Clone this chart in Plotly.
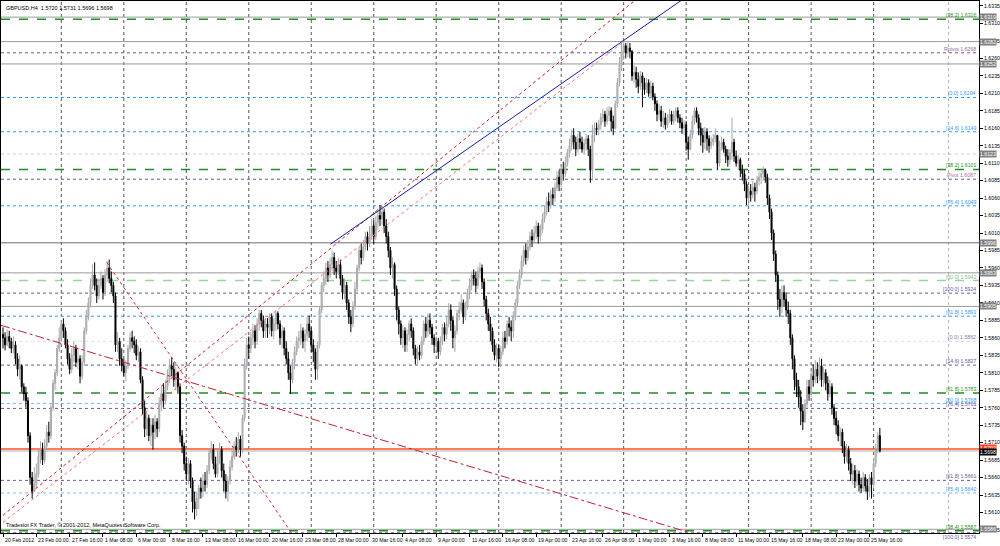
import plotly.graph_objects as go

BASE = 1.5
PIP = 10000.0

# ---- OHLC data (pips above 1.5000), GBPUSD H4, bar 0 = 20 Feb 2012 08:00 ----
first_open = 865
close_p = [
    860, 850, 862, 855, 845, 850, 830, 815, 820, 790, 780, 770, 720, 660, 640,
    650, 665, 690, 700, 685, 705, 725, 720, 760, 795, 810, 845, 860, 880, 870, 850,
    830, 815, 835, 845, 825, 830, 805, 825, 870, 890, 910, 935, 950, 935, 920, 935,
    945, 925, 950, 960, 945, 935, 920, 850, 855, 830, 820, 810, 820, 845, 860, 855,
    850, 835, 840, 800, 760, 730, 745, 720, 735, 725, 740, 730, 765, 780, 770, 790,
    805, 820, 815, 800, 810, 790, 720, 705, 680, 665, 680, 655, 625, 615, 630, 645,
    640, 655, 650, 670, 695, 700, 680, 665, 690, 700, 670, 655, 640, 655, 675, 690,
    705, 700, 715, 700, 745, 820, 850, 845, 860, 870, 855, 880, 895, 885, 870, 880,
    875, 890, 870, 880, 895, 880, 860, 870, 845, 830, 810, 800, 825, 840, 855, 860,
    870, 855, 865, 880, 870, 850, 840, 815, 850, 900, 935, 945, 960, 950, 965, 975,
    960, 955, 965, 945, 925, 935, 910, 890, 880, 905, 930, 960, 985, 975, 990, 1005,
    995, 1010, 1020, 1005, 1025, 1035, 1030, 1040, 1020, 1005, 985, 960, 965, 930, 900, 880,
    860, 870, 850, 865, 880, 870, 845, 830, 840, 835, 855, 880, 870, 885, 875, 860,
    850, 855, 840, 855, 875, 865, 880, 900, 885, 860, 870, 895, 900, 910, 890, 905,
    925, 935, 950, 945, 935, 955, 960, 940, 915, 895, 880, 870, 850, 835, 845, 830,
    840, 860, 855, 880, 875, 870, 890, 910, 935, 950, 970, 985, 975, 990, 1005, 1000,
    1010, 1020, 1005, 1015, 1030, 1040, 1055, 1050, 1065, 1060, 1075, 1090, 1080, 1100, 1095, 1110,
    1125, 1135, 1150, 1140, 1130, 1145, 1140, 1130, 1138, 1145, 1130, 1100, 1150, 1160, 1158, 1165,
    1175, 1180, 1170, 1178, 1185, 1170, 1160, 1195, 1225, 1250, 1270, 1278, 1268, 1275, 1270, 1235,
    1240, 1230, 1220, 1235, 1225, 1215, 1225, 1210, 1220, 1205, 1195, 1180, 1185, 1170, 1175, 1165,
    1175, 1180, 1170, 1178, 1185, 1175, 1168, 1160, 1165, 1140, 1130, 1150, 1170, 1185, 1175, 1160,
    1150, 1140, 1155, 1145, 1135, 1140, 1145, 1150, 1110, 1135, 1140, 1130, 1120, 1115, 1125, 1140,
    1120, 1110, 1115, 1100, 1095, 1080, 1060, 1070, 1065, 1075, 1070, 1085, 1090, 1095, 1100, 1090,
    1060, 1040, 1010, 980, 950, 915, 905, 925, 915, 900, 895, 860, 830, 800, 790, 775,
    755, 740, 765, 790, 780, 805, 800, 815, 805, 820, 800, 810, 795, 780, 790, 760,
    745, 735, 720, 725, 705, 690, 700, 680, 665, 670, 655, 665, 650, 645, 660, 648,
    640, 660, 650, 680, 700, 720, 698,
]
high_p = [
    875, 868, 872, 870, 860, 862, 855, 838, 835, 822, 795, 790, 775, 725, 668,
    675, 680, 700, 712, 710, 715, 735, 740, 765, 800, 815, 850, 875, 885, 888, 875,
    858, 838, 845, 855, 850, 845, 835, 835, 875, 900, 918, 945, 965, 968, 945, 945,
    955, 950, 958, 970, 972, 955, 940, 925, 868, 860, 845, 830, 828, 850, 868, 870,
    862, 858, 848, 845, 805, 770, 755, 750, 745, 745, 750, 745, 775, 790, 795, 800,
    815, 830, 832, 825, 818, 812, 795, 728, 710, 690, 688, 685, 660, 640, 640, 650,
    660, 665, 668, 678, 702, 712, 708, 690, 700, 710, 705, 680, 665, 662, 685, 700,
    712, 718, 725, 720, 750, 830, 860, 862, 868, 880, 878, 888, 900, 900, 892, 888,
    888, 895, 895, 888, 900, 898, 885, 878, 875, 855, 840, 820, 830, 848, 862, 870,
    880, 875, 872, 890, 892, 875, 858, 845, 855, 905, 940, 955, 968, 970, 975, 985,
    982, 970, 975, 972, 950, 945, 940, 915, 900, 912, 940, 965, 990, 995, 1000, 1012,
    1012, 1020, 1030, 1028, 1035, 1045, 1050, 1048, 1045, 1030, 1012, 990, 975, 968, 935, 905,
    885, 878, 875, 872, 885, 888, 875, 850, 848, 850, 862, 885, 890, 895, 895, 880,
    865, 862, 860, 862, 880, 882, 890, 910, 908, 890, 878, 900, 912, 922, 915, 912,
    930, 945, 955, 958, 955, 962, 968, 965, 945, 920, 902, 890, 875, 858, 852, 850,
    848, 868, 870, 885, 890, 885, 898, 915, 942, 958, 978, 992, 995, 1000, 1012, 1015,
    1020, 1028, 1025, 1022, 1038, 1050, 1062, 1068, 1072, 1075, 1082, 1098, 1100, 1108, 1112, 1120,
    1130, 1145, 1158, 1160, 1148, 1152, 1155, 1148, 1145, 1152, 1150, 1135, 1165, 1168, 1168, 1172,
    1182, 1188, 1185, 1190, 1192, 1190, 1178, 1200, 1232, 1262, 1282, 1285, 1282, 1283, 1282, 1272,
    1250, 1248, 1240, 1242, 1240, 1232, 1232, 1230, 1228, 1225, 1210, 1200, 1195, 1192, 1185, 1182,
    1180, 1188, 1185, 1185, 1190, 1190, 1180, 1175, 1172, 1170, 1148, 1158, 1178, 1190, 1190, 1180,
    1168, 1160, 1162, 1160, 1150, 1148, 1152, 1160, 1150, 1142, 1148, 1145, 1135, 1130, 1130, 1175,
    1145, 1128, 1122, 1118, 1108, 1100, 1085, 1078, 1080, 1085, 1082, 1092, 1098, 1102, 1105, 1102,
    1095, 1065, 1045, 1015, 985, 955, 930, 935, 935, 925, 912, 900, 865, 835, 810, 800,
    785, 765, 772, 800, 800, 815, 822, 828, 825, 832, 830, 818, 815, 805, 800, 795,
    765, 755, 742, 732, 730, 712, 708, 705, 688, 680, 678, 672, 670, 660, 668, 665,
    658, 665, 668, 688, 708, 725, 731,
]
low_p = [
    845, 842, 848, 845, 838, 838, 822, 805, 800, 782, 770, 760, 710, 650, 630,
    640, 645, 660, 680, 678, 680, 700, 710, 715, 755, 785, 805, 840, 855, 860, 845,
    822, 808, 810, 825, 818, 815, 795, 800, 820, 865, 885, 905, 930, 928, 910, 915,
    930, 915, 920, 940, 938, 925, 910, 840, 840, 820, 812, 805, 798, 815, 840, 845,
    838, 828, 825, 795, 750, 718, 720, 712, 705, 700, 715, 718, 725, 755, 760, 765,
    785, 795, 805, 790, 785, 780, 710, 695, 670, 655, 650, 645, 610, 600, 605, 615,
    630, 632, 640, 645, 665, 685, 672, 660, 660, 680, 660, 640, 630, 625, 650, 670,
    685, 690, 695, 690, 695, 740, 815, 830, 838, 850, 845, 850, 870, 875, 860, 860,
    860, 865, 862, 858, 870, 872, 850, 845, 835, 822, 800, 780, 795, 815, 835, 845,
    850, 845, 840, 855, 860, 840, 825, 800, 800, 845, 895, 925, 935, 940, 945, 955,
    950, 945, 950, 935, 915, 915, 900, 880, 868, 875, 900, 925, 955, 965, 970, 985,
    985, 990, 1000, 995, 1000, 1015, 1020, 1022, 1010, 995, 975, 950, 945, 920, 885, 865,
    850, 845, 840, 840, 855, 860, 835, 822, 822, 828, 830, 850, 860, 862, 865, 850,
    838, 840, 830, 835, 850, 855, 858, 875, 870, 845, 840, 865, 885, 895, 880, 885,
    900, 915, 928, 935, 925, 930, 945, 930, 905, 885, 870, 855, 840, 828, 825, 818,
    818, 835, 845, 850, 862, 855, 860, 885, 905, 930, 945, 962, 965, 970, 985, 990,
    995, 1002, 995, 998, 1010, 1025, 1035, 1040, 1045, 1050, 1055, 1070, 1070, 1075, 1085, 1090,
    1105, 1118, 1128, 1130, 1120, 1125, 1130, 1125, 1122, 1128, 1120, 1082, 1085, 1140, 1150, 1150,
    1158, 1168, 1162, 1165, 1170, 1155, 1150, 1158, 1190, 1220, 1242, 1258, 1260, 1262, 1260, 1228,
    1225, 1218, 1210, 1215, 1190, 1208, 1210, 1205, 1205, 1200, 1185, 1170, 1172, 1162, 1160, 1158,
    1160, 1168, 1165, 1165, 1170, 1168, 1160, 1152, 1150, 1128, 1115, 1128, 1145, 1165, 1168, 1150,
    1135, 1125, 1130, 1128, 1125, 1130, 1135, 1140, 1100, 1105, 1128, 1125, 1110, 1105, 1108, 1115,
    1112, 1105, 1100, 1090, 1085, 1070, 1050, 1048, 1055, 1060, 1055, 1065, 1078, 1080, 1085, 1082,
    1050, 1030, 1000, 970, 940, 900, 890, 895, 905, 890, 880, 850, 815, 785, 775, 760,
    735, 728, 738, 760, 770, 775, 790, 795, 795, 798, 790, 790, 785, 770, 775, 750,
    735, 722, 712, 705, 695, 680, 682, 670, 655, 650, 645, 648, 640, 638, 640, 640,
    628, 632, 630, 645, 675, 695, 696,
]

# ---- time axis ----
date_label_bars = [0, 16, 32, 48, 64, 80, 96, 112, 128, 144, 160, 176, 192, 208,
                   224, 240, 256, 272, 288, 304, 320, 336, 352, 368, 384, 400, 416]
date_labels = ["20 Feb 2012", "23 Feb 00:00", "27 Feb 16:00", "1 Mar 08:00", "6 Mar 00:00",
               "8 Mar 16:00", "13 Mar 08:00", "16 Mar 00:00", "20 Mar 16:00", "23 Mar 08:00",
               "28 Mar 00:00", "30 Mar 16:00", "4 Apr 08:00", "9 Apr 00:00", "11 Apr 16:00",
               "16 Apr 08:00", "19 Apr 00:00", "23 Apr 16:00", "26 Apr 08:00", "1 May 00:00",
               "3 May 16:00", "8 May 08:00", "11 May 00:00", "15 May 16:00", "18 May 08:00",
               "23 May 00:00", "25 May 16:00"]
week_start_bars = [28, 58, 88, 118, 148, 178, 208, 238, 268, 298, 328, 358, 388, 418]
marker_vline_bars = [454]

# ---- price axis ----
price_ticks = [1.5585, 1.5610, 1.5635, 1.5660, 1.5685, 1.5710, 1.5735, 1.5760, 1.5785,
               1.5810, 1.5835, 1.5860, 1.5885, 1.5910, 1.5935, 1.5960, 1.5985, 1.6010,
               1.6035, 1.6060, 1.6085, 1.6110, 1.6135, 1.6160, 1.6185, 1.6210, 1.6235,
               1.6260, 1.6285, 1.6310, 1.6335]

# ---- horizontal levels ----
level_prices = [1.6319, 1.6316, 1.6284, 1.6268, 1.6252, 1.6204, 1.6155, 1.6123, 1.6101,
                1.6087, 1.6049, 1.5996, 1.5953, 1.5942, 1.5924, 1.5905, 1.5891, 1.5855,
                1.5821, 1.5781, 1.5766, 1.5759, 1.5701, 1.5698, 1.5656, 1.5638, 1.5586,
                1.5584, 1.5581]
level_texts = ["", "[38.2] 1.6316", "", "Rpivot 1.6268", "", "[0.0] 1.6204", "[14.6] 1.6149",
               "", "[38.2] 1.6101", "Pivot 1.6087", "[76.4] 1.6049", "", "", "[50.0] 1.5942",
               "[100.0] 1.5924", "", "[61.8] 1.5891", "(0.0) 1.5862", "[14.6] 1.5827",
               "[61.8] 1.5783", "[50.0] 1.5768", "[76.4] 1.5761", "", "", "[61.8] 1.5661",
               "[76.4] 1.5640", "", "[38.4] 1.5587", "[100.0] 1.5574"]
level_color = ["#9a9a9a", "#1f8f1f", "#9a9a9a", "#6a5a9a", "#9a9a9a", "#3399ff", "#3399ff",
               "#d0d0d0", "#1f8f1f", "#6a5a9a", "#3399ff", "#6e6e6e", "#9a9a9a", "#9fd09f",
               "#6a5a9a", "#9a9a9a", "#3399ff", "#e8d8e8", "#6a5a9a", "#1f8f1f", "#77bbff",
               "#6a5a9a", "#ff5020", "#c8c8c8", "#6a5a9a", "#77bbff", "#9a9a9a", "#1f8f1f",
               "#6a5a9a"]
level_text_color = ["", "#1f8f1f", "", "#8a6a9a", "", "#3399ff", "#3399ff", "", "#1f8f1f",
                    "#b07090", "#3399ff", "", "", "#7fb87f", "#6a5a9a", "", "#3399ff", "#8a7aaa",
                    "#6a5a9a", "#1f8f1f", "#3399ff", "#6a5a9a", "", "", "#6a5a9a", "#3399ff",
                    "", "#1f8f1f", "#6a5a9a"]
level_text_below = [False] * 28 + [True]
level_dash = ["solid", "dash", "solid", "dot", "solid", "dot", "dot", "dot", "dash", "dot",
              "dot", "solid", "solid", "dash", "dot", "solid", "dot", "dot", "dot", "dash",
              "dot", "dot", "solid", "solid", "dot", "dot", "solid", "dash", "dot"]
level_width = [1, 1.5, 1, 1, 1, 1, 1, 1, 1.5, 1, 1, 1, 1, 1.5, 1, 1, 1, 1, 1, 1.5, 1, 1,
               1.5, 1.5, 1, 1, 1, 1.5, 1]

# ---- price boxes on the axis ----
box_prices = [1.6319, 1.6284, 1.6252, 1.6123, 1.5996, 1.5953, 1.5905, 1.5703, 1.5696, 1.5586]
box_texts = ["1.6319", "1.6282", "1.6252", "1.6123", "1.5996", "1.5953", "1.5905", "1.5703",
             "1.5698", "1.5586"]
box_colors = ["#808080", "#808080", "#808080", "#808080", "#808080", "#808080", "#808080",
              "#ff4020", "#000000", "#808080"]

# ---- trend lines (bar index, price) ----
trend_x0 = [0, 0, 157.2, -1, 49.8]
trend_p0 = [1.5606, 1.5596, 1.5994, 1.5878, 1.5968]
trend_x1 = [310, 298.5, 330, 330, 138.5]
trend_p1 = [1.6359, 1.6285, 1.6352, 1.5581, 1.5581]
trend_color = ["#d01818", "#ff7070", "#1a1aa0", "#c02030", "#d02828"]
trend_dash = ["dot", "dot", "solid", "dashdot", "dot"]

# ---------------------------------------------------------------
opens = [first_open] + close_p[:-1]
bars = list(range(len(close_p)))
O = [BASE + v / PIP for v in opens]
C = [BASE + v / PIP for v in close_p]
H = [BASE + max(h, o, c) / PIP for h, o, c in zip(high_p, opens, close_p)]
L = [BASE + min(l, o, c) / PIP for l, o, c in zip(low_p, opens, close_p)]

fig = go.Figure()

shapes = []
for b in week_start_bars:
    shapes.append(dict(type="line", xref="x", yref="paper", x0=b, x1=b, y0=0, y1=1,
                       line=dict(color="#555555", width=1, dash="dot"), layer="below"))
for b in marker_vline_bars:
    shapes.append(dict(type="line", xref="x", yref="paper", x0=b, x1=b, y0=0, y1=1,
                       line=dict(color="#b0b0b0", width=1, dash="dot"), layer="below"))
for p, col, d, w in zip(level_prices, level_color, level_dash, level_width):
    shapes.append(dict(type="line", xref="paper", yref="y", x0=0, x1=1, y0=p, y1=p,
                       line=dict(color=col, width=w, dash=d), layer="below"))
fig.update_layout(shapes=shapes)

for x0, p0, x1, p1, col, d in zip(trend_x0, trend_p0, trend_x1, trend_p1, trend_color, trend_dash):
    fig.add_trace(go.Scatter(x=[x0, x1], y=[p0, p1], mode="lines",
                             line=dict(color=col, width=1, dash=d),
                             hoverinfo="skip", showlegend=False))

fig.add_trace(go.Candlestick(
    x=bars, open=O, high=H, low=L, close=C,
    increasing=dict(line=dict(color="#a8a8a8", width=1), fillcolor="#c8c8c8"),
    decreasing=dict(line=dict(color="#000000", width=1), fillcolor="#000000"),
    whiskerwidth=0, showlegend=False, hoverinfo="skip"))

FONT = "Liberation Sans, Arial"
SMALL = 5.2
ann = []
for b, t in zip(date_label_bars, date_labels):
    ann.append(dict(x=b, y=0, xref="x", yref="paper", text=t, showarrow=False,
                    xanchor="left", yanchor="top", yshift=-2, xshift=0,
                    font=dict(family=FONT, size=SMALL, color="#000000")))
for p, t, col, below in zip(level_prices, level_texts, level_text_color, level_text_below):
    if t:
        ann.append(dict(x=1, y=p, xref="paper", yref="y", text=t, showarrow=False,
                        xanchor="right", yanchor="top" if below else "bottom",
                        xshift=-1, yshift=1 if below else -1,
                        font=dict(family=FONT, size=SMALL, color=col)))
for p, t, col in zip(box_prices, box_texts, box_colors):
    ann.append(dict(x=1, y=p, xref="paper", yref="y", text=t, showarrow=False,
                    xanchor="left", yanchor="middle", bgcolor=col, borderpad=0,
                    font=dict(family=FONT, size=SMALL, color="#ffffff")))
ann.append(dict(x=0, y=1, xref="paper", yref="paper", text="GBPUSD,H4  1.5720 1.5731 1.5696 1.5698",
                showarrow=False, xanchor="left", yanchor="top", xshift=3, yshift=-2,
                font=dict(family=FONT, size=5.5, color="#000000")))
ann.append(dict(x=0, y=0, xref="paper", yref="paper",
                text="Tradeslot FX Trader, © 2001-2012, MetaQuotes Software Corp.",
                showarrow=False, xanchor="left", yanchor="bottom", xshift=3, yshift=3,
                font=dict(family=FONT, size=5.5, color="#000000")))

fig.update_layout(
    width=1000, height=546,
    margin=dict(l=0, r=20, t=0, b=13),
    paper_bgcolor="#ffffff", plot_bgcolor="#ffffff",
    annotations=ann,
    xaxis=dict(range=[-0.96, 468.6], showgrid=False, zeroline=False,
               tickvals=date_label_bars, showticklabels=False, ticks="outside", ticklen=3,
               tickcolor="#000000", showline=True, linecolor="#000000", linewidth=1, mirror=True,
               rangeslider=dict(visible=False), fixedrange=True),
    yaxis=dict(range=[1.55807, 1.63421], side="right", showgrid=False, zeroline=False,
               tickvals=price_ticks, ticktext=["%.4f" % v for v in price_ticks],
               ticks="outside", ticklen=3, tickcolor="#000000",
               tickfont=dict(family=FONT, size=SMALL, color="#000000"),
               showline=True, linecolor="#000000", linewidth=1, mirror=True, fixedrange=True),
)

fig.write_html("out.html", config={"displayModeBar": False, "staticPlot": True},
               post_script="document.body.style.margin='0';document.body.style.padding='0';")
